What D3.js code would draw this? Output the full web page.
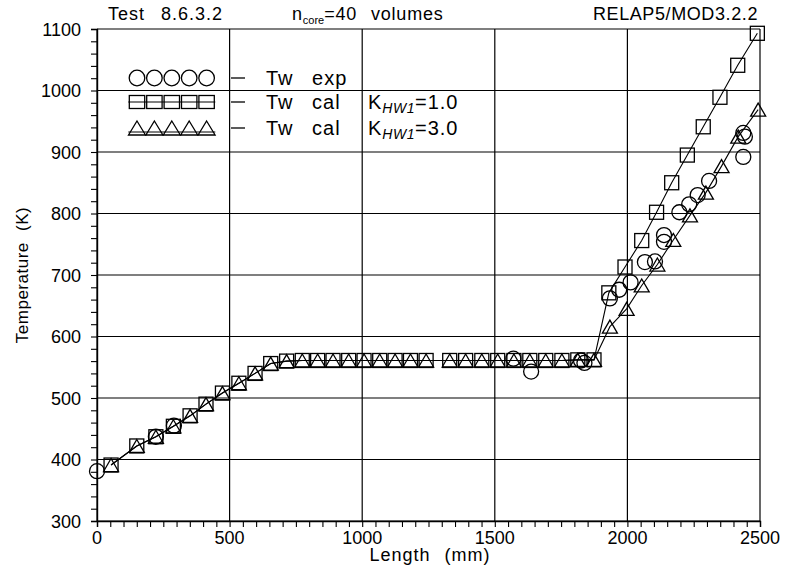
<!DOCTYPE html>
<html>
<head>
<meta charset="utf-8">
<script src="https://cdn.jsdelivr.net/npm/d3@7"></script>
<style>
  html, body { margin: 0; padding: 0; background: #fff; }
  svg { display: block; font-family: "Liberation Sans", Arial, sans-serif; }
  text { fill: #000; }
</style>
</head>
<body>
<svg id="chart" width="787" height="575"></svg>
<script>
// Axis ranges and tick values
const xTicks = [0, 500, 1000, 1500, 2000, 2500];
const yTicks = [300, 400, 500, 600, 700, 800, 900, 1000, 1100];

// Wall temperature, calculation with K_HW1 = 1.0 (squares)
const lenCal1 = [53, 150, 222, 288, 351, 411, 473, 535, 596, 655, 715, 774, 832, 890, 949, 1007, 1066, 1124, 1182, 1241,
                 1330, 1390, 1451, 1511, 1572, 1632, 1692, 1753, 1813, 1874,
                 1930, 1991, 2054, 2110, 2167, 2226, 2286, 2349, 2416, 2490];
const tempCal1 = [391, 422, 437, 454, 471, 490, 508, 524, 540, 556, 560, 561, 561, 561, 561, 561, 561, 561, 561, 561,
                  561, 561, 561, 561, 561, 561, 561, 561, 562, 562,
                  671, 713, 756, 802, 850, 895, 941, 989, 1041, 1093];

// Wall temperature, calculation with K_HW1 = 3.0 (triangles)
const lenCal3 = [53, 150, 222, 288, 351, 411, 473, 535, 596, 655, 715, 774, 832, 890, 949, 1007, 1066, 1124, 1182, 1241,
                 1330, 1390, 1451, 1511, 1572, 1632, 1692, 1753, 1813, 1874,
                 1934, 1997, 2054, 2113, 2173, 2236, 2296, 2355, 2418, 2493];
const tempCal3 = [391, 422, 437, 454, 471, 490, 508, 524, 540, 556, 560, 561, 561, 561, 561, 561, 561, 561, 561, 561,
                  561, 561, 561, 561, 561, 561, 561, 561, 562, 562,
                  616, 645, 683, 717, 757, 797, 834, 877, 925, 969];

// Wall temperature, experiment (circles)
const lenExp  = [0, 222, 290, 1570, 1637, 1825, 1838, 1934, 1969, 2012, 2066, 2104, 2138, 2138, 2196, 2233, 2265, 2308, 2437, 2443, 2437];
const tempExp = [381, 437, 455, 564, 543, 561, 557, 662, 676, 688, 721, 722, 765, 754, 802, 815, 830, 853, 931, 925, 892];

const W = 787, H = 575;
const m = { left: 97, right: 27, top: 29, bottom: 54 };

const svg = d3.select("#chart");
const x = d3.scaleLinear().domain([0, 2500]).range([m.left, W - m.right]);
const y = d3.scaleLinear().domain([300, 1100]).range([H - m.bottom, m.top]);

const black = "#000";

// Grid lines at major ticks
const grid = svg.append("g").attr("stroke", black).attr("stroke-width", 1.2);
grid.selectAll("line.gx").data(xTicks).join("line")
  .attr("x1", d => x(d)).attr("x2", d => x(d))
  .attr("y1", y(300)).attr("y2", y(1100));
grid.selectAll("line.gy").data(yTicks).join("line")
  .attr("x1", x(0)).attr("x2", x(2500))
  .attr("y1", d => y(d)).attr("y2", d => y(d));

// Axes with outward minor ticks
const xAxis = d3.axisBottom(x).tickValues(d3.range(0, 2501, 50)).tickSize(6).tickFormat("");
const yAxis = d3.axisLeft(y).tickValues(d3.range(300, 1101, 20)).tickSize(6).tickFormat("");
const gx = svg.append("g").attr("transform", `translate(0,${y(300)})`).call(xAxis);
const gy = svg.append("g").attr("transform", `translate(${x(0)},0)`).call(yAxis);
[gx, gy].forEach(g => {
  g.select(".domain").attr("stroke", black).attr("stroke-width", 1.4);
  g.selectAll(".tick line").attr("stroke", black).attr("stroke-width", 1.1);
});

// Tick labels
svg.append("g").selectAll("text").data(xTicks).join("text")
  .attr("x", d => x(d)).attr("y", y(300) + 23)
  .attr("text-anchor", "middle").attr("font-size", 18)
  .text(d => d);
svg.append("g").selectAll("text").data(yTicks).join("text")
  .attr("x", x(0) - 16).attr("y", d => y(d) + 6.5)
  .attr("text-anchor", "end").attr("font-size", 18)
  .text(d => d);

// Axis titles
svg.append("text").attr("x", 430).attr("y", 561)
  .attr("text-anchor", "middle").attr("font-size", 18).attr("letter-spacing", 1).attr("word-spacing", 8)
  .text("Length (mm)");
svg.append("text").attr("transform", "translate(28,275) rotate(-90)")
  .attr("text-anchor", "middle").attr("font-size", 17).attr("letter-spacing", 0.5).attr("word-spacing", 6)
  .text("Temperature (K)");

// Header texts
svg.append("text").attr("x", 108).attr("y", 20).attr("font-size", 18)
  .attr("letter-spacing", 1).attr("word-spacing", 10)
  .text("Test 8.6.3.2");
const hdr = svg.append("text").attr("x", 292).attr("y", 20).attr("font-size", 18)
  .attr("letter-spacing", 0.8).attr("word-spacing", 8);
hdr.append("tspan").text("n");
hdr.append("tspan").attr("font-size", 11).attr("letter-spacing", 0).attr("dy", 4).text("core");
hdr.append("tspan").attr("dy", -4).text("=40 volumes");
svg.append("text").attr("x", 758).attr("y", 20).attr("text-anchor", "end").attr("font-size", 18)
  .attr("letter-spacing", 0.6)
  .text("RELAP5/MOD3.2.2");

// Marker drawing helpers
const SQ = 14, TW = 15, TH = 13, CR = 7.5;
function squares(g, pts) {
  g.selectAll("rect").data(pts).join("rect")
    .attr("x", d => d[0] - SQ / 2).attr("y", d => d[1] - SQ / 2)
    .attr("width", SQ).attr("height", SQ)
    .attr("fill", "none").attr("stroke", black).attr("stroke-width", 1.3);
}
function triPath(cx, cy, w, h) {
  return `M${cx},${cy - h / 2}L${cx + w / 2},${cy + h / 2}L${cx - w / 2},${cy + h / 2}Z`;
}
function triangles(g, pts) {
  g.selectAll("path").data(pts).join("path")
    .attr("d", d => triPath(d[0], d[1], TW, TH))
    .attr("fill", "none").attr("stroke", black).attr("stroke-width", 1.3);
}
function circles(g, pts) {
  g.selectAll("circle").data(pts).join("circle")
    .attr("cx", d => d[0]).attr("cy", d => d[1]).attr("r", CR)
    .attr("fill", "none").attr("stroke", black).attr("stroke-width", 1.3);
}

const ptsCal1 = lenCal1.map((l, i) => [x(l), y(tempCal1[i])]);
const ptsCal3 = lenCal3.map((l, i) => [x(l), y(tempCal3[i])]);
const ptsExp = lenExp.map((l, i) => [x(l), y(tempExp[i])]);

const line = d3.line();
svg.append("path").attr("d", line(ptsCal1)).attr("fill", "none").attr("stroke", black).attr("stroke-width", 1.1);
svg.append("path").attr("d", line(ptsCal3)).attr("fill", "none").attr("stroke", black).attr("stroke-width", 1.1);

squares(svg.append("g"), ptsCal1);
triangles(svg.append("g"), ptsCal3);
circles(svg.append("g"), ptsExp);

// Legend
const legendRows = [
  { kind: "circle", y: 78, label: "Tw exp", k: null },
  { kind: "square", y: 102, label: "Tw cal", k: "=1.0" },
  { kind: "triangle", y: 128, label: "Tw cal", k: "=3.0" }
];
const legX = d3.range(5).map(i => 137 + i * 17.4);
legendRows.forEach(r => {
  const g = svg.append("g");
  if (r.kind === "circle") {
    g.selectAll("circle").data(legX).join("circle")
      .attr("cx", d => d).attr("cy", r.y).attr("r", 7.8)
      .attr("fill", "none").attr("stroke", black).attr("stroke-width", 1.3);
  } else if (r.kind === "square") {
    g.append("line").attr("x1", legX[0] - 8.7).attr("x2", legX[4] + 8.7)
      .attr("y1", r.y).attr("y2", r.y).attr("stroke", black).attr("stroke-width", 1.1);
    g.selectAll("rect").data(legX).join("rect")
      .attr("x", d => d - 7.7).attr("y", r.y - 6.5).attr("width", 15.4).attr("height", 13)
      .attr("fill", "none").attr("stroke", black).attr("stroke-width", 1.3);
  } else {
    g.append("line").attr("x1", legX[0] - 8.7).attr("x2", legX[4] + 8.7)
      .attr("y1", r.y + 4).attr("y2", r.y + 4).attr("stroke", black).attr("stroke-width", 1.1);
    g.selectAll("path").data(legX).join("path")
      .attr("d", d => triPath(d, r.y, 17, 14))
      .attr("fill", "none").attr("stroke", black).attr("stroke-width", 1.3);
  }
  g.append("line").attr("x1", 231).attr("x2", 245).attr("y1", r.y).attr("y2", r.y)
    .attr("stroke", black).attr("stroke-width", 1.3);
  g.append("text").attr("x", 266).attr("y", r.y + 7).attr("font-size", 20)
    .attr("letter-spacing", 1).attr("word-spacing", 12)
    .text(r.label);
  if (r.k) {
    const t = g.append("text").attr("x", 368).attr("y", r.y + 7).attr("font-size", 20).attr("letter-spacing", 1);
    t.append("tspan").text("K");
    t.append("tspan").attr("font-size", 14).attr("font-style", "italic").attr("letter-spacing", 0.5).attr("dy", 4).text("HW1");
    t.append("tspan").attr("dy", -4).text(r.k);
  }
});
</script>
</body>
</html>
